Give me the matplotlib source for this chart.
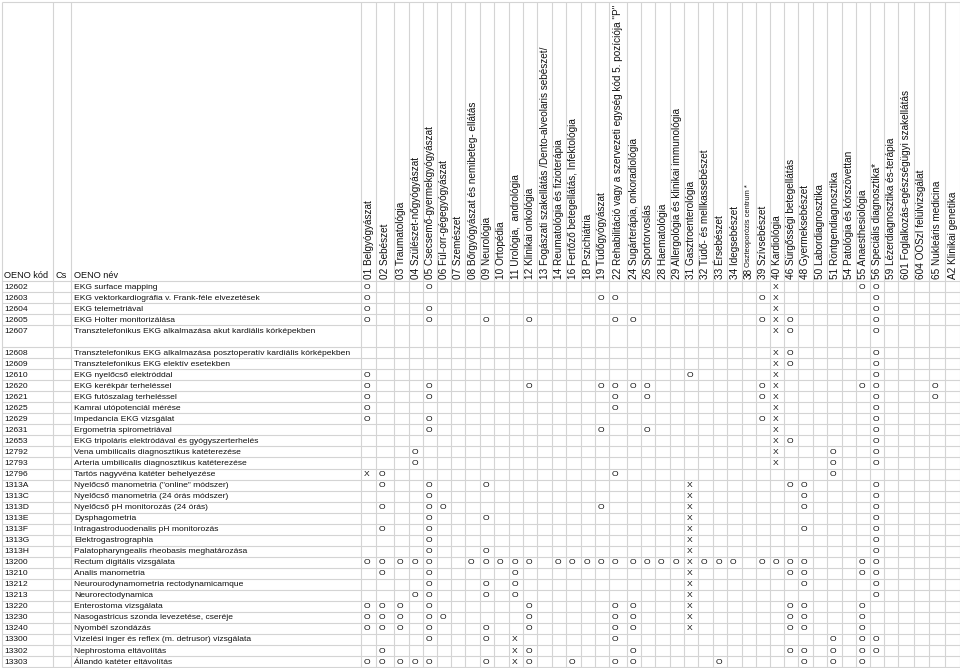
import matplotlib
matplotlib.use("Agg")
import matplotlib.pyplot as plt

plt.rcParams["font.family"] = ["Liberation Sans", "DejaVu Sans"]

# szakmák (oszlopok)
spec_codes = ["01", "02", "03", "04", "05", "06", "07", "08", "09", "10", "11", "12",
              "13", "14", "16", "18", "19", "22", "24", "26", "28", "29", "31", "32",
              "33", "34", "38", "39", "40", "46", "48", "50", "51", "54", "55", "56",
              "59", "601", "604", "65", "A2"]
spec_names = ["Belgyógyászat", "Sebészet", "Traumatológia", "Szülészet-nőgyógyászat",
              "Csecsemő-gyermekgyógyászat", "Fül-orr-gégegyógyászat", "Szemészet",
              "Bőrgyógyászat és nemibeteg- ellátás", "Neurológia", "Ortopédia",
              "Urológia,  andrológia", "Klinikai onkológia",
              "Fogászati szakellátás /Dento-alveolaris sebészet/",
              "Reumatológia és fizioterápia", "Fertőző betegellátás, Infektológia",
              "Pszichiátria", "Tüdőgyógyászat",
              "Rehabilitáció vagy a szervezeti egység kód 5. pozíciója \"P\"",
              "Sugárterápia, onkoradiológia", "Sportorvoslás", "Haematológia",
              "Allergológia és klinikai immunológia", "Gasztroenterológia",
              "Tüdő- és mellkassebészet", "Érsebészet", "Idegsebészet",
              "Oszteoporózis centrum *", "Szívsebészet", "Kardiológia",
              "Sürgősségi betegellátás", "Gyermeksebészet", "Labordiagnosztika",
              "Röntgendiagnosztika", "Patológia és kórszövettan", "Anaesthesiológia",
              "Speciális diagnosztika*", "Lézerdiagnosztika és-terápia",
              "Foglalkozás-egészségügyi szakellátás", "OOSzI felülvizsgálat",
              "Nukleáris medicina", "Klinikai genetika"]

# beavatkozások (sorok)
oeno_codes = ["12602", "12603", "12604", "12605", "12607", "12608", "12609", "12610",
              "12620", "12621", "12625", "12629", "12631", "12653", "12792", "12793",
              "12796", "1313A", "1313C", "1313D", "1313E", "1313F", "1313G", "1313H",
              "13200", "13210", "13212", "13213", "13220", "13230", "13240", "13300",
              "13302", "13303"]
oeno_names = ["EKG surface mapping",
              "EKG vektorkardiográfia v. Frank-féle elvezetések",
              "EKG telemetriával",
              "EKG Holter monitorizálása",
              "Transztelefonikus EKG alkalmazása akut kardiális kórképekben",
              "Transztelefonikus EKG alkalmazása posztoperatív kardiális kórképekben",
              "Transztelefonikus EKG elektív esetekben",
              "EKG nyelőcső elektróddal",
              "EKG kerékpár terheléssel",
              "EKG futószalag terheléssel",
              "Kamrai utópotenciál mérése",
              "Impedancia EKG vizsgálat",
              "Ergometria spirometriával",
              "EKG tripoláris elektródával és gyógyszerterhelés",
              "Vena umbilicalis diagnosztikus katéterezése",
              "Arteria umbilicalis diagnosztikus katéterezése",
              "Tartós nagyvéna katéter behelyezése",
              "Nyelőcső manometria (\"online\" módszer)",
              "Nyelőcső manometria (24 órás módszer)",
              "Nyelőcső pH monitorozás (24 órás)",
              "Dysphagometria",
              "Intragastroduodenalis pH monitorozás",
              "Elektrogastrographia",
              "Palatopharyngealis rheobasis meghatározása",
              "Rectum digitális vizsgálata",
              "Analis manometria",
              "Neurourodynamometria rectodynamicamque",
              "Neurorectodynamica",
              "Enterostoma vizsgálata",
              "Nasogastricus szonda levezetése, cseréje",
              "Nyombél szondázás",
              "Vizelési inger és reflex (m. detrusor) vizsgálata",
              "Nephrostoma eltávolítás",
              "Állandó katéter eltávolítás"]

# jelölések: "szakma:jel"
oeno_marks = [
    "01:O 05:O 40:X 55:O 56:O",
    "01:O 19:O 22:O 39:O 40:X 56:O",
    "01:O 05:O 40:X 56:O",
    "01:O 05:O 09:O 12:O 22:O 24:O 39:O 40:X 46:O 56:O",
    "40:X 46:O 56:O",
    "40:X 46:O 56:O",
    "40:X 46:O 56:O",
    "01:O 31:O 40:X 56:O",
    "01:O 05:O 12:O 19:O 22:O 24:O 26:O 39:O 40:X 55:O 56:O 65:O",
    "01:O 05:O 22:O 26:O 39:O 40:X 56:O 65:O",
    "01:O 22:O 40:X 56:O",
    "01:O 05:O 39:O 40:X 56:O",
    "05:O 19:O 26:O 40:X 56:O",
    "40:X 46:O 56:O",
    "04:O 40:X 51:O 56:O",
    "04:O 40:X 51:O 56:O",
    "01:X 02:O 22:O 51:O",
    "02:O 05:O 09:O 31:X 46:O 48:O 56:O",
    "05:O 31:X 48:O 56:O",
    "02:O 05:O 06:O 19:O 31:X 48:O 56:O",
    "05:O 09:O 31:X 56:O",
    "02:O 05:O 31:X 48:O 56:O",
    "05:O 31:X 56:O",
    "05:O 09:O 31:X 56:O",
    "01:O 02:O 03:O 04:O 05:O 08:O 09:O 10:O 11:O 12:O 14:O 16:O 18:O 19:O 22:O 24:O "
    "26:O 28:O 29:O 31:X 32:O 33:O 34:O 39:O 40:O 46:O 48:O 55:O 56:O",
    "02:O 05:O 11:O 31:X 46:O 48:O 55:O 56:O",
    "05:O 09:O 11:O 31:X 48:O 56:O",
    "04:O 05:O 09:O 11:O 31:X 56:O",
    "01:O 02:O 03:O 05:O 12:O 22:O 24:O 31:X 46:O 48:O 55:O",
    "01:O 02:O 03:O 05:O 06:O 12:O 22:O 24:O 31:X 46:O 48:O 55:O",
    "01:O 02:O 03:O 05:O 09:O 12:O 22:O 24:O 31:X 46:O 48:O 55:O",
    "05:O 09:O 11:X 22:O 51:O 55:O 56:O",
    "02:O 11:X 12:O 24:O 46:O 48:O 51:O 55:O 56:O",
    "01:O 02:O 03:O 04:O 05:O 09:O 11:X 12:O 16:O 22:O 24:O 33:O 48:O 51:O 55:O",
]

# === elrendezés (pixelben) ===
W, H = 960, 668
col_edges = [361, 376, 394, 409, 423, 437, 451, 465, 480, 494, 509, 523, 537, 552, 566,
             581, 595, 609, 627, 641, 655, 670, 684, 698, 713, 727, 742, 756, 770, 784,
             798, 813, 827, 842, 856, 870, 884, 898, 914, 929, 945, 960]
left_edges = [2, 53, 71]
top = 2
head_bottom = 281
row_h = 11.03
row_units = [2 if c == "12607" else 1 for c in oeno_codes]

FS = 6.1        # sorok betűmérete
FS_HEAD = 7.2   # fejléc betűmérete
GRID = "#d4d4d4"
TXT = "#111111"

fig = plt.figure(figsize=(W / 100, H / 100), dpi=100)
ax = fig.add_axes([0, 0, 1, 1])
ax.set_xlim(0, W)
ax.set_ylim(H, 0)
ax.axis("off")

# sorok határai
row_tops = [head_bottom]
for u in row_units:
    row_tops.append(row_tops[-1] + u * row_h)
bottom = row_tops[-1]

ax.hlines([top] + row_tops, 2, W, color=GRID, linewidth=0.8)
ax.vlines(left_edges + col_edges, top, bottom, color=GRID, linewidth=0.8)

# fejléc
ax.text(4, head_bottom - 5, "OENO kód", fontsize=FS * 1.08, color=TXT, va="center")
ax.text(56, head_bottom - 5, "Cs", fontsize=FS * 1.08, color=TXT, va="center")
ax.text(74, head_bottom - 5, "OENO név", fontsize=FS * 1.08, color=TXT, va="center")

for i, (code, name) in enumerate(zip(spec_codes, spec_names)):
    xc = (col_edges[i] + col_edges[i + 1]) / 2
    if code == "38":
        ax.text(xc, head_bottom - 2, code, fontsize=FS_HEAD, color=TXT, rotation=90,
                rotation_mode="anchor", ha="left", va="center")
        ax.text(xc, head_bottom - 14, name, fontsize=FS_HEAD * 0.75, color=TXT, rotation=90,
                rotation_mode="anchor", ha="left", va="center")
    else:
        ax.text(xc, head_bottom - 2, code + " " + name, fontsize=FS_HEAD, color=TXT,
                rotation=90, rotation_mode="anchor", ha="left", va="center")

# adatsorok
col_index = {c: i for i, c in enumerate(spec_codes)}
for r, (code, name, marks) in enumerate(zip(oeno_codes, oeno_names, oeno_marks)):
    yc = row_tops[r] + row_h / 2 + 0.5
    ax.text(4, yc, code, fontsize=FS, color=TXT, va="center")
    ax.text(74, yc, name, fontsize=FS, color=TXT, va="center")
    for item in marks.split():
        spec, m = item.split(":")
        i = col_index[spec]
        ax.text(col_edges[i] + 2.5, yc, m, fontsize=FS, color=TXT, va="center", ha="left")

fig.savefig("out.png", dpi=100)
